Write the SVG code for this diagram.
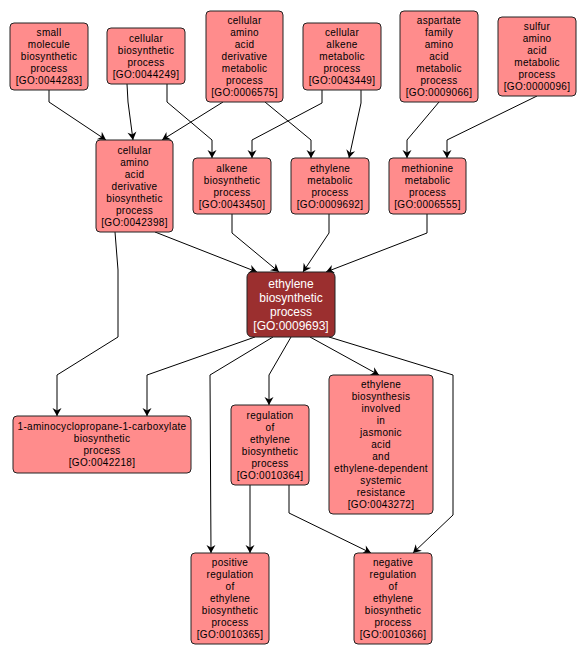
<svg xmlns="http://www.w3.org/2000/svg" width="587" height="656" viewBox="0 0 587 656">
<style>
.n rect{fill:#FF8C8C;stroke:#222;stroke-width:1}
.n text{font-family:"Liberation Sans",Arial,sans-serif;font-size:10px;letter-spacing:0.3px;fill:#000;text-anchor:middle}
.c rect{fill:#9B2F2F;stroke:#222;stroke-width:1}
.c text{font-family:"Liberation Sans",Arial,sans-serif;font-size:12px;fill:#fff;text-anchor:middle}
#edges path{fill:none;stroke:#000;stroke-width:1;marker-end:url(#arr)}
</style>
<defs>
<marker id="arr" markerUnits="userSpaceOnUse" markerWidth="10" markerHeight="10" viewBox="-9 -5 10 10" refX="0" refY="0" orient="auto">
<path d="M0,0 L-8,-4.5 L-5.5,0 L-8,4.5 Z" fill="#000"/>
</marker>
</defs>
<rect width="587" height="656" fill="#fff"/>
<g id="edges">
<path d="M49,90 L49,102 L106,140"/>
<path d="M127,84 L128,102 L133,140"/>
<path d="M167,84 L167,102 L212,140 L212,158"/>
<path d="M223,102 L162,140"/>
<path d="M265,102 L311,140 L311,158"/>
<path d="M322,90 L322,103 L252,140 L252,158"/>
<path d="M361,90 L361,103 L349,158"/>
<path d="M439,102 L407,140 L407,158"/>
<path d="M537,96 L447,140 L447,158"/>
<path d="M155,232 L257,272"/>
<path d="M232,214 L232,233 L279,272"/>
<path d="M329,214 L329,233 L303,272"/>
<path d="M427,214 L427,233 L326,272"/>
<path d="M115,232 L118,270 L118,337 L57,375 L57,416"/>
<path d="M255,337 L147,375 L147,416"/>
<path d="M273,337 L210,375 L211,553"/>
<path d="M291,337 L269,375 L269,405"/>
<path d="M310,337 L379,375"/>
<path d="M329,337 L453,375 L453,515 L413,553"/>
<path d="M250,485 L250,553"/>
<path d="M289,485 L289,513 L371,553"/>
</g>
<g id="GO0044283" class="n"><rect x="10" y="23" width="78" height="67" rx="4"/>
<text x="49" y="36.3">small</text><text x="49" y="48.3">molecule</text><text x="49" y="60.3">biosynthetic</text><text x="49" y="72.3">process</text><text x="49" y="84.3">[GO:0044283]</text></g>
<g id="GO0044249" class="n"><rect x="107" y="28" width="78" height="56" rx="4"/>
<text x="146" y="41.8">cellular</text><text x="146" y="53.8">biosynthetic</text><text x="146" y="65.8">process</text><text x="146" y="77.8">[GO:0044249]</text></g>
<g id="GO0006575" class="n"><rect x="206" y="11" width="77" height="91" rx="4"/>
<text x="244.5" y="24.3">cellular</text><text x="244.5" y="36.3">amino</text><text x="244.5" y="48.3">acid</text><text x="244.5" y="60.3">derivative</text><text x="244.5" y="72.3">metabolic</text><text x="244.5" y="84.3">process</text><text x="244.5" y="96.3">[GO:0006575]</text></g>
<g id="GO0043449" class="n"><rect x="303" y="23" width="78" height="67" rx="4"/>
<text x="342" y="36.3">cellular</text><text x="342" y="48.3">alkene</text><text x="342" y="60.3">metabolic</text><text x="342" y="72.3">process</text><text x="342" y="84.3">[GO:0043449]</text></g>
<g id="GO0009066" class="n"><rect x="400" y="11" width="78" height="91" rx="4"/>
<text x="439" y="24.3">aspartate</text><text x="439" y="36.3">family</text><text x="439" y="48.3">amino</text><text x="439" y="60.3">acid</text><text x="439" y="72.3">metabolic</text><text x="439" y="84.3">process</text><text x="439" y="96.3">[GO:0009066]</text></g>
<g id="GO0000096" class="n"><rect x="498" y="17" width="78" height="79" rx="4"/>
<text x="537" y="30.3">sulfur</text><text x="537" y="42.3">amino</text><text x="537" y="54.3">acid</text><text x="537" y="66.3">metabolic</text><text x="537" y="78.3">process</text><text x="537" y="90.3">[GO:0000096]</text></g>
<g id="GO0042398" class="n"><rect x="96" y="140" width="77" height="92" rx="4"/>
<text x="134.5" y="153.8">cellular</text><text x="134.5" y="165.8">amino</text><text x="134.5" y="177.8">acid</text><text x="134.5" y="189.8">derivative</text><text x="134.5" y="201.8">biosynthetic</text><text x="134.5" y="213.8">process</text><text x="134.5" y="225.8">[GO:0042398]</text></g>
<g id="GO0043450" class="n"><rect x="193" y="158" width="78" height="56" rx="4"/>
<text x="232" y="171.8">alkene</text><text x="232" y="183.8">biosynthetic</text><text x="232" y="195.8">process</text><text x="232" y="207.8">[GO:0043450]</text></g>
<g id="GO0009692" class="n"><rect x="291" y="158" width="78" height="56" rx="4"/>
<text x="330" y="171.8">ethylene</text><text x="330" y="183.8">metabolic</text><text x="330" y="195.8">process</text><text x="330" y="207.8">[GO:0009692]</text></g>
<g id="GO0006555" class="n"><rect x="389" y="158" width="77" height="56" rx="4"/>
<text x="427.5" y="171.8">methionine</text><text x="427.5" y="183.8">metabolic</text><text x="427.5" y="195.8">process</text><text x="427.5" y="207.8">[GO:0006555]</text></g>
<g id="GO0009693" class="c"><rect x="247" y="272" width="88" height="65" rx="5"/>
<text x="291" y="287.5">ethylene</text><text x="291" y="301.5">biosynthetic</text><text x="291" y="315.5">process</text><text x="291" y="329.5">[GO:0009693]</text></g>
<g id="GO0042218" class="n"><rect x="13" y="416" width="178" height="57" rx="4"/>
<text x="102" y="430.3">1-aminocyclopropane-1-carboxylate</text><text x="102" y="442.3">biosynthetic</text><text x="102" y="454.3">process</text><text x="102" y="466.3">[GO:0042218]</text></g>
<g id="GO0010364" class="n"><rect x="231" y="405" width="78" height="80" rx="4"/>
<text x="270" y="418.8">regulation</text><text x="270" y="430.8">of</text><text x="270" y="442.8">ethylene</text><text x="270" y="454.8">biosynthetic</text><text x="270" y="466.8">process</text><text x="270" y="478.8">[GO:0010364]</text></g>
<g id="GO0043272" class="n"><rect x="329" y="375" width="104" height="139" rx="4"/>
<text x="381" y="388.3">ethylene</text><text x="381" y="400.3">biosynthesis</text><text x="381" y="412.3">involved</text><text x="381" y="424.3">in</text><text x="381" y="436.3">jasmonic</text><text x="381" y="448.3">acid</text><text x="381" y="460.3">and</text><text x="381" y="472.3">ethylene-dependent</text><text x="381" y="484.3">systemic</text><text x="381" y="496.3">resistance</text><text x="381" y="508.3">[GO:0043272]</text></g>
<g id="GO0010365" class="n"><rect x="191" y="553" width="78" height="91" rx="4"/>
<text x="230" y="566.3">positive</text><text x="230" y="578.3">regulation</text><text x="230" y="590.3">of</text><text x="230" y="602.3">ethylene</text><text x="230" y="614.3">biosynthetic</text><text x="230" y="626.3">process</text><text x="230" y="638.3">[GO:0010365]</text></g>
<g id="GO0010366" class="n"><rect x="354" y="553" width="78" height="91" rx="4"/>
<text x="393" y="566.3">negative</text><text x="393" y="578.3">regulation</text><text x="393" y="590.3">of</text><text x="393" y="602.3">ethylene</text><text x="393" y="614.3">biosynthetic</text><text x="393" y="626.3">process</text><text x="393" y="638.3">[GO:0010366]</text></g>
</svg>
